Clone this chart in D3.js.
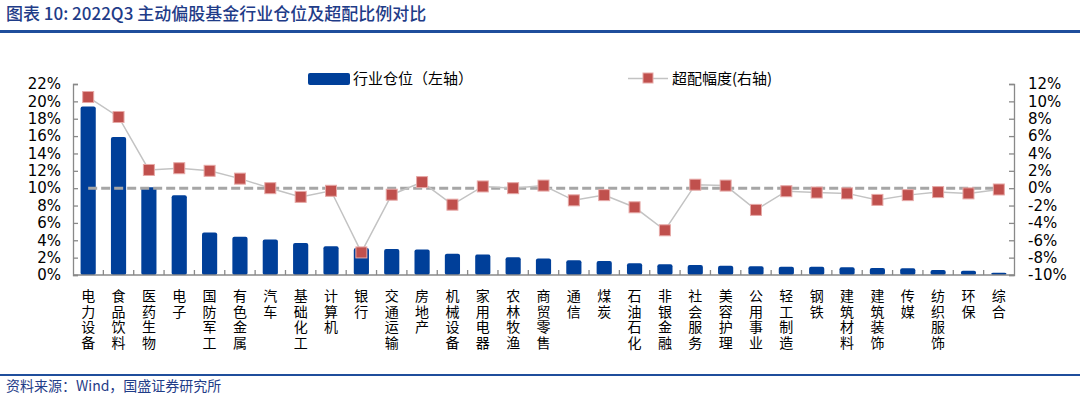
<!DOCTYPE html>
<html>
<head>
<meta charset="utf-8">
<script src="https://cdn.jsdelivr.net/npm/d3@7"></script>
<style>
  body { margin: 0; background: #fff; }
  svg { display: block; }
  .tick text { font-family: "DejaVu Sans", sans-serif; font-size: 15px; fill: #000; }
</style>
</head>
<body>
<div class="chart"></div>
<script>
var categories = ['电力设备', '食品饮料', '医药生物', '电子', '国防军工', '有色金属', '汽车', '基础化工', '计算机', '银行',
  '交通运输', '房地产', '机械设备', '家用电器', '农林牧渔', '商贸零售', '通信', '煤炭', '石油石化', '非银金融',
  '社会服务', '美容护理', '公用事业', '轻工制造', '钢铁', '建筑材料', '建筑装饰', '传媒', '纺织服饰', '环保', '综合'];
// 行业仓位 (left axis, %)
var position = [19.4, 15.9, 10.1, 9.2, 4.9, 4.4, 4.1, 3.7, 3.3, 3.1,
  3.0, 2.95, 2.45, 2.35, 2.05, 1.9, 1.7, 1.6, 1.35, 1.23,
  1.15, 1.07, 1.0, 0.96, 0.96, 0.88, 0.8, 0.77, 0.58, 0.5, 0.27];
// 超配幅度 (right axis, %)
var overweight = [10.5, 8.2, 2.1, 2.3, 2.0, 1.1, 0.0, -1.0, -0.3, -7.4,
  -0.75, 0.7, -1.9, 0.2, 0.0, 0.3, -1.4, -0.8, -2.2, -4.85,
  0.4, 0.3, -2.5, -0.35, -0.5, -0.6, -1.35, -0.8, -0.45, -0.6, -0.15];
var leftTicks = [0, 2, 4, 6, 8, 10, 12, 14, 16, 18, 20, 22];
var rightTicks = [-10, -8, -6, -4, -2, 0, 2, 4, 6, 8, 10, 12];

var svgWidth = 1080;
var svgHeight = 398;
var plot = { left: 73, right: 1014, top: 84, bottom: 275 };

var svg = d3.select('.chart')
  .append('svg')
  .attr('width', svgWidth)
  .attr('height', svgHeight);

// title + rules
svg.append('text')
  .attr('x', 6)
  .attr('y', 20)
  .attr('fill', '#1f3c88')
  .style('font-family', '"Noto Sans CJK SC", sans-serif')
  .style('font-size', '17px')
  .style('font-weight', 500)
  .text('图表 10:  2022Q3 主动偏股基金行业仓位及超配比例对比');

svg.append('rect').attr('x', 0).attr('y', 30).attr('width', svgWidth).attr('height', 3).attr('fill', '#1f4e9c');
svg.append('rect').attr('x', 0).attr('y', 374).attr('width', svgWidth).attr('height', 2).attr('fill', '#1f4e9c');

svg.append('text')
  .attr('x', 6)
  .attr('y', 391)
  .attr('fill', '#1f3c88')
  .style('font-family', '"Noto Sans CJK SC", sans-serif')
  .style('font-size', '14px')
  .text('资料来源：Wind，国盛证券研究所');

// scales
var x = d3.scaleBand()
  .domain(categories)
  .range([plot.left, plot.right])
  .paddingInner(0.5)
  .paddingOuter(0.25);

var yLeft = d3.scaleLinear().domain([0, 22]).range([plot.bottom, plot.top]);
var yRight = d3.scaleLinear().domain([-10, 12]).range([plot.bottom, plot.top]);

var axisColor = '#898989';

// axes
var leftAxis = d3.axisLeft(yLeft).tickValues(leftTicks).tickSize(-5).tickPadding(12).tickFormat(d => d + '%');
var gl = svg.append('g').attr('transform', `translate(${plot.left},0)`).call(leftAxis);
gl.select('.domain').attr('stroke', axisColor).attr('stroke-width', 1.3);
gl.selectAll('.tick line').attr('stroke', axisColor).attr('stroke-width', 1.3);

var rightAxis = d3.axisRight(yRight).tickValues(rightTicks).tickSize(-5).tickPadding(14).tickFormat(d => d + '%');
var gr = svg.append('g').attr('transform', `translate(${plot.right},0)`).call(rightAxis);
gr.select('.domain').attr('stroke', axisColor).attr('stroke-width', 1.3);
gr.selectAll('.tick line').attr('stroke', axisColor).attr('stroke-width', 1.3);

// bars
svg.append('g').selectAll('rect')
  .data(position)
  .enter()
  .append('rect')
  .attr('x', (d, i) => x(categories[i]))
  .attr('y', d => yLeft(d))
  .attr('width', x.bandwidth())
  .attr('height', d => yLeft(0) - yLeft(d))
  .attr('rx', 2)
  .attr('fill', '#003f99');

// bottom axis line + category boundary ticks
svg.append('line')
  .attr('x1', plot.left).attr('x2', plot.right)
  .attr('y1', plot.bottom).attr('y2', plot.bottom)
  .attr('stroke', axisColor).attr('stroke-width', 1.3);
var step = x.step();
svg.append('g').selectAll('line')
  .data(categories.slice(1))
  .enter()
  .append('line')
  .attr('x1', d => x(d) - step * 0.25)
  .attr('x2', d => x(d) - step * 0.25)
  .attr('y1', plot.bottom)
  .attr('y2', plot.bottom - 5)
  .attr('stroke', axisColor).attr('stroke-width', 1.3);

// category labels (vertical, one char per line)
var labels = svg.append('g').selectAll('text')
  .data(categories)
  .enter()
  .append('text')
  .attr('x', d => x(d) + x.bandwidth() / 2)
  .attr('y', 301)
  .attr('text-anchor', 'middle')
  .style('font-family', '"Noto Sans CJK SC", sans-serif')
  .style('font-size', '14px')
  .attr('fill', '#000');
labels.selectAll('tspan')
  .data(d => d.split(''))
  .enter()
  .append('tspan')
  .attr('x', function() { return this.parentNode.getAttribute('x'); })
  .attr('dy', (d, i) => i === 0 ? 0 : 15.7)
  .text(d => d);

// zero reference of right axis
var cx = d => x(d) + x.bandwidth() / 2;
svg.append('line')
  .attr('x1', cx(categories[0]))
  .attr('x2', cx(categories[categories.length - 1]))
  .attr('y1', yRight(0))
  .attr('y2', yRight(0))
  .attr('stroke', '#a6a6a6')
  .attr('stroke-width', 3)
  .attr('stroke-dasharray', '9,4');

// overweight line
var line = d3.line()
  .x((d, i) => cx(categories[i]))
  .y(d => yRight(d));
svg.append('path')
  .datum(overweight)
  .attr('d', line)
  .attr('fill', 'none')
  .attr('stroke', '#c3c3c3')
  .attr('stroke-width', 1.5);

var ms = 11;
svg.append('g').selectAll('rect')
  .data(overweight)
  .enter()
  .append('rect')
  .attr('x', (d, i) => cx(categories[i]) - ms / 2)
  .attr('y', d => yRight(d) - ms / 2)
  .attr('width', ms)
  .attr('height', ms)
  .attr('fill', '#c0504d')
  .attr('stroke', '#e6a9a7')
  .attr('stroke-width', 1);

// legend
var legend = svg.append('g');
legend.append('rect').attr('x', 308).attr('y', 73).attr('width', 42).attr('height', 12).attr('rx', 2).attr('fill', '#003f99');
legend.append('text').attr('x', 353).attr('y', 84)
  .style('font-family', '"Noto Sans CJK SC", sans-serif').style('font-size', '15px')
  .text('行业仓位（左轴）');
legend.append('line').attr('x1', 628).attr('x2', 668).attr('y1', 78.5).attr('y2', 78.5)
  .attr('stroke', '#c3c3c3').attr('stroke-width', 1.5);
legend.append('rect').attr('x', 643).attr('y', 73).attr('width', 10).attr('height', 10)
  .attr('fill', '#c0504d').attr('stroke', '#e6a9a7');
legend.append('text').attr('x', 672).attr('y', 84)
  .style('font-family', '"Noto Sans CJK SC", sans-serif').style('font-size', '15px')
  .text('超配幅度(右轴)');
</script>
</body>
</html>
